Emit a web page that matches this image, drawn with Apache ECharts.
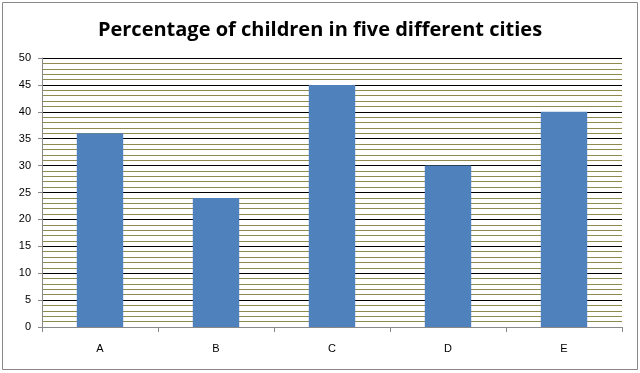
<!DOCTYPE html>
<html><head><meta charset="utf-8">
<script src="https://cdn.jsdelivr.net/npm/echarts@6/dist/echarts.min.js"></script>
<style>html,body{margin:0;padding:0;background:#fff}#c{width:640px;height:373px}</style>
</head><body><div id="c"></div>
<script>
const categories = ['A', 'B', 'C', 'D', 'E'];
const percentages = [36, 24, 45, 30, 40];
const titleText = 'Percentage of children in five different cities';

const chart = echarts.init(document.getElementById('c'), null, {renderer: 'canvas'});
chart.setOption({
  animation: false,
  backgroundColor: '#fff',
  title: {
    text: titleText, left: 'center', top: 15,
    textStyle: {fontFamily: 'Open Sans', fontWeight: 'bold', fontSize: 20, color: '#000'}
  },
  graphic: [{
    type: 'rect', shape: {x: 2.5, y: 2.5, width: 635, height: 367},
    style: {fill: 'none', stroke: '#888', lineWidth: 1}, silent: true, z: 100
  }],
  grid: {left: 42, right: 18, top: 58, bottom: 46},
  xAxis: {
    type: 'category', data: categories,
    axisLine: {lineStyle: {color: '#888'}},
    axisTick: {show: true, length: 5, lineStyle: {color: '#888'}},
    axisLabel: {fontFamily: 'Liberation Sans', fontSize: 11, color: '#000', margin: 16}
  },
  yAxis: {
    type: 'value', min: 0, max: 50, interval: 5,
    axisLine: {show: true, lineStyle: {color: '#888'}},
    axisTick: {show: true, length: 4, lineStyle: {color: '#888'}},
    axisLabel: {fontFamily: 'Liberation Sans', fontSize: 11, color: '#000', margin: 11},
    splitLine: {lineStyle: {color: '#000', width: 1}},
    minorTick: {show: false, splitNumber: 5},
    minorSplitLine: {show: true, lineStyle: {color: '#8f8a50', width: 1}}
  },
  series: [{
    type: 'bar', data: percentages, barWidth: '40%',
    itemStyle: {color: '#4f81bd'}
  }]
});
</script></body></html>
